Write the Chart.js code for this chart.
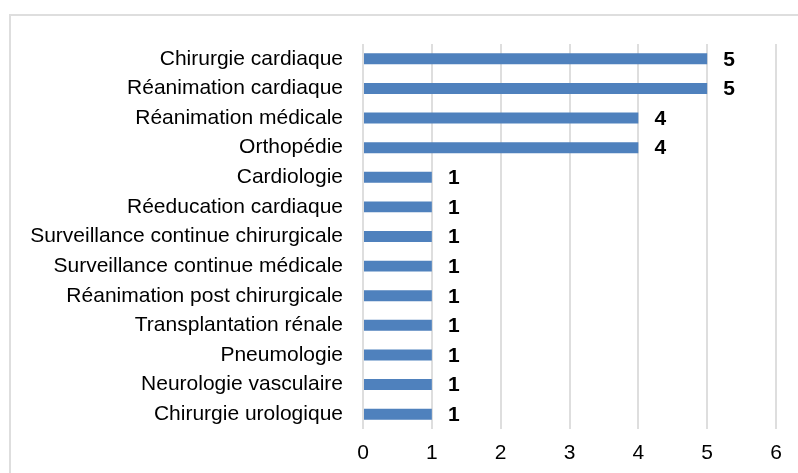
<!DOCTYPE html>
<html>
<head>
<meta charset="utf-8">
<script src="https://cdn.jsdelivr.net/npm/chart.js@4/dist/chart.umd.min.js"></script>
<style>
  html, body { margin: 0; padding: 0; background: #fff; overflow: hidden; }
  #frame {
    position: absolute; left: 9px; top: 14px; width: 820px; height: 500px;
    border: 2px solid #dedede; box-sizing: border-box;
  }
  #wrap { position: absolute; left: 0; top: 0; width: 798px; height: 473px; }
</style>
</head>
<body>
<div id="frame"></div>
<div id="wrap"><canvas id="chart" width="798" height="473"></canvas></div>
<script>
/*jslint browser:true, indent:2*/
/*globals Chart*/

var services = [
  'Chirurgie cardiaque',
  'Réanimation cardiaque',
  'Réanimation médicale',
  'Orthopédie',
  'Cardiologie',
  'Réeducation cardiaque',
  'Surveillance continue chirurgicale',
  'Surveillance continue médicale',
  'Réanimation post chirurgicale',
  'Transplantation rénale',
  'Pneumologie',
  'Neurologie vasculaire',
  'Chirurgie urologique'
];
var counts = [5, 5, 4, 4, 1, 1, 1, 1, 1, 1, 1, 1, 1];
var xTicks = [0, 1, 2, 3, 4, 5, 6];

(function () {
  'use strict';

  var font, valueLabels;

  font = '"Liberation Sans", Arial, sans-serif';

  // writes each count in bold just past the end of its bar
  valueLabels = {
    id: 'valueLabels',
    afterDatasetsDraw: function (chart) {
      var ctx = chart.ctx;
      ctx.save();
      ctx.font = 'bold 21px ' + font;
      ctx.fillStyle = '#000';
      ctx.textAlign = 'center';
      ctx.textBaseline = 'middle';
      chart.getDatasetMeta(0).data.forEach(function (bar, i) {
        ctx.fillText(String(counts[i]), bar.x + 22, bar.y + 1);
      });
      ctx.restore();
    }
  };

  new Chart(document.getElementById('chart'), {
    type: 'bar',
    data: {
      labels: services,
      datasets: [{
        data: counts,
        backgroundColor: '#4f81bd',
        borderWidth: 0,
        barPercentage: 0.37,
        categoryPercentage: 1
      }]
    },
    plugins: [valueLabels],
    options: {
      indexAxis: 'y',
      responsive: false,
      animation: false,
      events: [],
      layout: { padding: { top: 44, right: 22, bottom: 0, left: 0 } },
      plugins: {
        legend: { display: false },
        tooltip: { enabled: false }
      },
      scales: {
        x: {
          min: xTicks[0],
          max: xTicks[xTicks.length - 1],
          afterBuildTicks: function (scale) {
            scale.ticks = xTicks.map(function (v) { return { value: v }; });
          },
          afterFit: function (scale) { scale.height = 44; },
          grid: { color: '#dedede', lineWidth: 2, drawTicks: false },
          border: { display: false },
          ticks: { padding: 12, color: '#000', font: { family: font, size: 21 } }
        },
        y: {
          afterFit: function (scale) { scale.width = 363; },
          grid: { display: false, drawTicks: false },
          border: { display: false },
          ticks: { padding: 20, color: '#000', font: { family: font, size: 21 }, autoSkip: false }
        }
      }
    }
  });
}());
</script>
</body>
</html>
